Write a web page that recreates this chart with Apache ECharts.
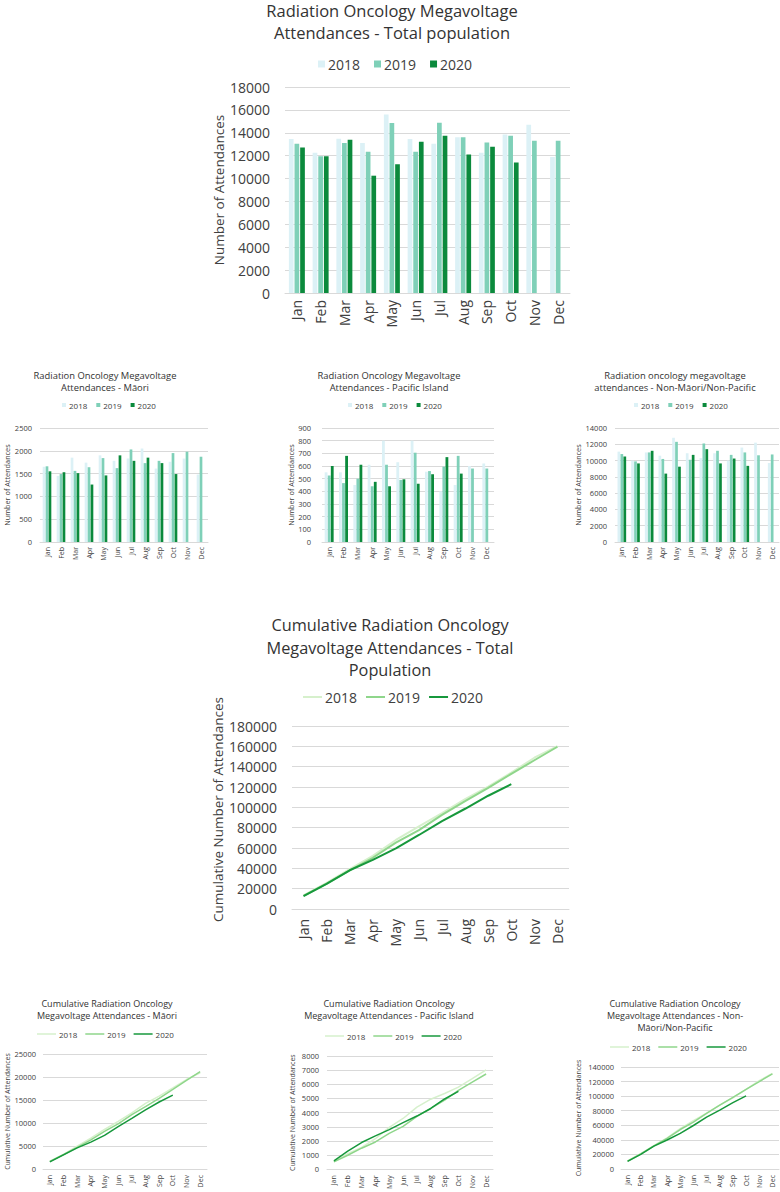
<!DOCTYPE html>
<html><head><meta charset="utf-8">
<script src="https://cdn.jsdelivr.net/npm/echarts@6/dist/echarts.min.js"></script>
<style>
html,body{margin:0;padding:0;background:#fff;width:780px;height:1192px;overflow:hidden}
.c{position:absolute;left:0;top:0;width:780px;height:1192px}
</style>
</head><body>
<div id="c0" class="c"></div><div id="c1" class="c"></div><div id="c2" class="c"></div><div id="c3" class="c"></div>
<div id="c4" class="c"></div><div id="c5" class="c"></div><div id="c6" class="c"></div><div id="c7" class="c"></div>
<script>
const months = ['Jan','Feb','Mar','Apr','May','Jun','Jul','Aug','Sep','Oct','Nov','Dec'];
const years = ['2018','2019','2020'];

// Monthly attendances
const total2018 = [13450,12250,13480,13100,15600,13450,13040,13620,12260,13860,14700,11880];
const total2019 = [13040,11950,13100,12340,14850,12340,14880,13600,13160,13740,13300,13300];
const total2020 = [12720,11950,13390,10250,11240,13220,13740,12110,12780,11410,null,null];

const maori2018 = [1650,1450,1850,1740,1900,1780,1830,2050,1610,1760,1830,1480];
const maori2019 = [1660,1490,1560,1640,1840,1620,2030,1730,1780,1950,1980,1870];
const maori2020 = [1550,1530,1510,1260,1460,1900,1780,1850,1730,1490,null,null];

const pacific2018 = [550,550,450,610,800,630,800,555,400,450,600,620];
const pacific2019 = [525,465,500,440,610,490,705,560,595,680,580,580];
const pacific2020 = [600,680,610,475,440,495,460,535,670,540,null,null];

const nonMaori2018 = [11100,10000,11000,10600,12800,10900,10300,10900,10000,11600,12200,9700];
const nonMaori2019 = [10800,9900,11000,10200,12300,10100,12100,11200,10700,11000,10650,10750];
const nonMaori2020 = [10500,9650,11200,8400,9250,10700,11400,9650,10250,9350,null,null];

// Cumulative attendances
const cumTotal2018 = [13450,25700,39200,52300,67900,81300,94400,108000,120300,134100,148800,160300];
const cumTotal2019 = [13000,25000,38100,50400,65300,77600,92500,106100,119200,133000,146300,159600];
const cumTotal2020 = [12700,24700,38100,48300,59600,72800,86500,98600,111400,122800,null,null];

const cumMaori2018 = [1650,3100,4950,6690,8590,10370,12200,14250,15860,17620,19450,20930];
const cumMaori2019 = [1660,3150,4710,6350,8190,9810,11840,13570,15350,17300,19280,21150];
const cumMaori2020 = [1550,3080,4590,5850,7310,9210,10990,12840,14570,16060,null,null];

const cumPacific2018 = [550,1100,1550,2160,2960,3590,4390,4950,5350,5800,6400,7020];
const cumPacific2019 = [525,990,1490,1930,2540,3030,3735,4295,4890,5570,6150,6730];
const cumPacific2020 = [600,1280,1890,2365,2805,3300,3760,4295,4965,5505,null,null];

const cumNonMaori2018 = [11100,21100,32100,42700,55500,66400,76700,87600,97600,109200,121400,131100];
const cumNonMaori2019 = [10800,20700,31700,41900,54200,64300,76400,87600,98300,109300,119950,130700];
const cumNonMaori2020 = [10500,20150,31350,39750,49000,59700,71100,80750,91000,100350,null,null];

const FONT = '"Open Sans", "Noto Sans", sans-serif';
const BAR_COLORS = ['#dcf1f6', '#7fd0b8', '#0b8a3c'];
const LINE_COLORS = ['#d6f0cc', '#8fd68b', '#17983c'];
const GRID_C = '#d9d9d9';
const TXT = '#404040';

function build(o) {
  const isBar = o.type === 'bar';
  const colors = isBar ? BAR_COLORS : LINE_COLORS;
  return {
    animation: false,
    textStyle: { fontFamily: FONT },
    title: {
      text: o.title, left: o.titleX, top: o.titleY, textAlign: 'center', padding: 0,
      textStyle: { fontFamily: FONT, fontWeight: 'normal', fontSize: o.titleSize, lineHeight: o.titleLH, color: '#333' }
    },
    legend: {
      data: years, left: o.legendX, top: o.legendY, padding: 0,
      itemWidth: o.iw, itemHeight: o.ih, itemGap: o.igap,
      icon: 'rect',
      textStyle: { fontFamily: FONT, fontSize: o.legendSize, color: TXT, padding: [0,0,0,-2] }
    },
    grid: { left: o.grid[0], top: o.grid[1], width: o.grid[2] - o.grid[0], height: o.grid[3] - o.grid[1], containLabel: false },
    xAxis: {
      type: 'category', data: months, boundaryGap: true,
      axisTick: { show: false },
      axisLine: { lineStyle: { color: GRID_C } },
      axisLabel: { rotate: 90, interval: 0, fontSize: o.monthSize, margin: o.monthMargin, color: TXT, fontFamily: FONT }
    },
    yAxis: {
      type: 'value', min: 0, max: o.max, interval: o.interval,
      name: o.yName, nameLocation: 'middle', nameGap: o.nameGap,
      nameTextStyle: { fontSize: o.nameSize, color: TXT, fontFamily: FONT, padding: o.namePad || 0 },
      axisLine: { show: false }, axisTick: { show: false },
      axisLabel: { fontSize: o.tickSize, margin: o.tickMargin, color: TXT, fontFamily: FONT, formatter: v => String(v) },
      splitLine: { lineStyle: { color: GRID_C, width: 1 } }
    },
    series: o.data.map((d, i) => isBar ? {
      name: years[i], type: 'bar', data: d, barWidth: o.barWidth, barGap: o.barGap,
      itemStyle: { color: colors[i] }
    } : {
      name: years[i], type: 'line', data: d, symbol: 'none', showSymbol: false,
      lineStyle: { color: colors[i], width: o.lw }, itemStyle: { color: colors[i] }, z: 2 + i
    })
  };
}

const configs = [
  { type: 'bar', title: 'Radiation Oncology Megavoltage\nAttendances - Total population', titleX: 392, titleY: -1, titleSize: 16.5, titleLH: 22,
    legendX: 318, legendY: 57, iw: 7, ih: 7, igap: 14, legendSize: 14,
    grid: [285, 87, 570, 293], max: 18000, interval: 2000, yName: 'Number of Attendances', nameGap: 57, nameSize: 13.5,
    tickSize: 14, tickMargin: 15, monthSize: 14, monthMargin: 7, barWidth: 4.7, barGap: '20%',
    data: [total2018, total2019, total2020] },
  { type: 'bar', title: 'Radiation Oncology Megavoltage\nAttendances - Māori', titleX: 105, titleY: 369, titleSize: 9.4, titleLH: 12.5,
    legendX: 62, legendY: 401, iw: 4, ih: 4, igap: 9, legendSize: 8,
    grid: [40, 428, 208, 542], max: 2500, interval: 500, yName: 'Number of Attendances', nameGap: 27, nameSize: 7.3,
    tickSize: 7.5, tickMargin: 8, monthSize: 7, monthMargin: 5, barWidth: 2.7, barGap: '10%',
    data: [maori2018, maori2019, maori2020] },
  { type: 'bar', title: 'Radiation Oncology Megavoltage\nAttendances - Pacific Island', titleX: 389, titleY: 369, titleSize: 9.4, titleLH: 12.5,
    legendX: 348, legendY: 401, iw: 4, ih: 4, igap: 9, legendSize: 8,
    grid: [322, 428, 494, 542], max: 900, interval: 100, yName: 'Number of Attendances', nameGap: 26, nameSize: 7.3,
    tickSize: 7.5, tickMargin: 11, monthSize: 7, monthMargin: 5, barWidth: 2.8, barGap: '10%',
    data: [pacific2018, pacific2019, pacific2020] },
  { type: 'bar', title: 'Radiation oncology megavoltage\nattendances - Non-Māori/Non-Pacific', titleX: 675, titleY: 369, titleSize: 9.4, titleLH: 12.5,
    legendX: 634, legendY: 401, iw: 4, ih: 4, igap: 9, legendSize: 8,
    grid: [615, 428, 779, 542], max: 14000, interval: 2000, yName: 'Number of Attendances', nameGap: 32, nameSize: 7.3,
    tickSize: 7.5, tickMargin: 8, monthSize: 7, monthMargin: 5, barWidth: 2.7, barGap: '10%',
    data: [nonMaori2018, nonMaori2019, nonMaori2020] },
  { type: 'line', title: 'Cumulative Radiation Oncology\nMegavoltage Attendances - Total\nPopulation', titleX: 390, titleY: 614, titleSize: 16.3, titleLH: 22.5,
    legendX: 303, legendY: 690, iw: 19, ih: 2, igap: 9, legendSize: 14, lw: 2,
    grid: [292, 726, 569, 909], max: 180000, interval: 20000, yName: 'Cumulative Number of Attendances', nameGap: 59, nameSize: 13.5,
    namePad: [0, 0, 0, 16],
    tickSize: 14, tickMargin: 15, monthSize: 14, monthMargin: 10,
    data: [cumTotal2018, cumTotal2019, cumTotal2020] },
  { type: 'line', title: 'Cumulative Radiation Oncology\nMegavoltage Attendances - Māori', titleX: 107, titleY: 997, titleSize: 9, titleLH: 12,
    legendX: 37, legendY: 1030, iw: 19, ih: 1.5, igap: 8, legendSize: 8, lw: 1.5,
    grid: [43, 1054, 207, 1169], max: 25000, interval: 5000, yName: 'Cumulative Number of Attendances', nameGap: 32, nameSize: 7,
    tickSize: 7.5, tickMargin: 7, monthSize: 7, monthMargin: 6,
    data: [cumMaori2018, cumMaori2019, cumMaori2020] },
  { type: 'line', title: 'Cumulative Radiation Oncology\nMegavoltage Attendances - Pacific Island', titleX: 389, titleY: 997, titleSize: 9, titleLH: 12,
    legendX: 325, legendY: 1032, iw: 19, ih: 1.5, igap: 8, legendSize: 8, lw: 1.5,
    grid: [327, 1056, 493, 1170], max: 8000, interval: 1000, yName: 'Cumulative Number of Attendances', nameGap: 31, nameSize: 7,
    tickSize: 7.5, tickMargin: 8, monthSize: 7, monthMargin: 6,
    data: [cumPacific2018, cumPacific2019, cumPacific2020] },
  { type: 'line', title: 'Cumulative Radiation Oncology\nMegavoltage Attendances - Non-\nMāori/Non-Pacific', titleX: 675, titleY: 997, titleSize: 9, titleLH: 12,
    legendX: 610, legendY: 1043, iw: 19, ih: 1.5, igap: 8, legendSize: 8, lw: 1.5,
    grid: [621, 1067, 779, 1169], max: 140000, interval: 20000, yName: 'Cumulative Number of Attendances', nameGap: 39, nameSize: 7,
    tickSize: 7.5, tickMargin: 7, monthSize: 7, monthMargin: 6,
    data: [cumNonMaori2018, cumNonMaori2019, cumNonMaori2020] }
];

configs.forEach((cfg, i) => {
  const chart = echarts.init(document.getElementById('c' + i), null, { renderer: 'svg', width: 780, height: 1192 });
  chart.setOption(build(cfg));
});
</script>
</body></html>
